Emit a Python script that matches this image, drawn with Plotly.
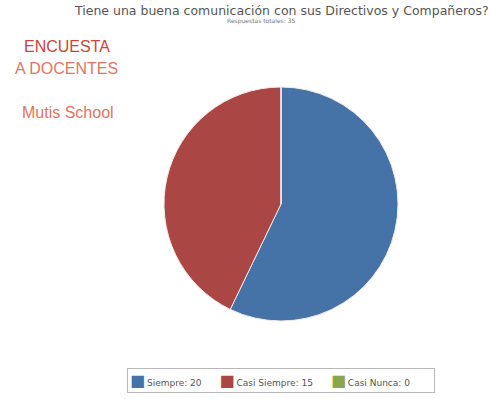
import plotly.graph_objects as go

# Survey answers
categories = ["Siempre", "Casi Siempre", "Casi Nunca"]
values = [20, 15, 0]
colors = ["#4572A7", "#AA4643", "#89A54E"]

title_text = "Tiene una buena comunicación con sus Directivos y Compañeros?"
subtitle_text = "Respuestas totales: " + str(sum(values))

W, H = 491, 399

labels = [f"{c}: {v}" for c, v in zip(categories, values)]

fig = go.Figure(
    go.Pie(
        labels=labels,
        values=values,
        sort=False,
        direction="clockwise",
        rotation=0,
        textinfo="none",
        hoverinfo="label+percent",
        marker=dict(colors=colors, line=dict(color="#f0e8e8", width=1)),
        domain=dict(x=[164 / W, 398 / W], y=[1 - 321 / H, 1 - 87 / H]),
        showlegend=False,
    )
)


def px_x(x):
    return x / W


def px_y(y):
    return 1 - y / H


# Compact legend row: coloured swatch glyph followed by "label: value"
legend_items = [
    f"<span style='color:{col};font-size:16px'>■</span>\u2009{lab}"
    for col, lab in zip(colors, labels)
]
legend_text = "\u2003\u2003".join(legend_items)

annotations = [
    dict(text=title_text, x=px_x(281), y=px_y(10), font=dict(size=12.5, color="#555555", family="DejaVu Sans")),
    dict(text=subtitle_text, x=px_x(261), y=px_y(21), font=dict(size=6, color="#777777", family="DejaVu Sans")),
    dict(text="ENCUESTA", x=px_x(67), y=px_y(46), font=dict(size=16, color="#C8443E", family="Liberation Sans")),
    dict(text="A DOCENTES", x=px_x(66), y=px_y(68), font=dict(size=16, color="#E07466", family="Liberation Sans")),
    dict(text="Mutis School", x=px_x(68), y=px_y(113), font=dict(size=16, color="#DD7464", family="Liberation Sans")),
    dict(
        text=legend_text,
        x=px_x(281),
        y=px_y(380),
        width=302,
        align="left",
        font=dict(size=9, color="#555555", family="DejaVu Sans"),
        bordercolor="#b8b8b8",
        borderwidth=1,
        borderpad=2,
        bgcolor="white",
    ),
]
for a in annotations:
    a.update(xref="paper", yref="paper", showarrow=False, xanchor="center", yanchor="middle")

fig.update_layout(
    width=W,
    height=H,
    margin=dict(l=0, r=0, t=0, b=0),
    paper_bgcolor="white",
    plot_bgcolor="white",
    annotations=annotations,
)

fig.write_html("out.html")
